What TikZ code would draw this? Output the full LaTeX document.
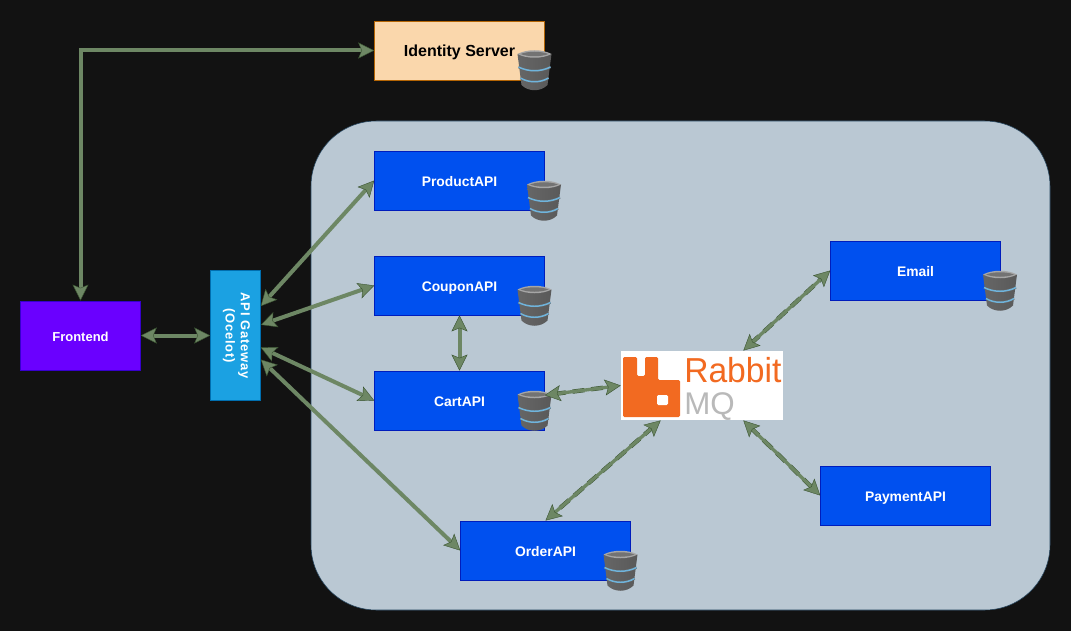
\documentclass[tikz,border=0pt]{standalone}
\usepackage{fontspec}
\setmainfont{Liberation Sans}
\usetikzlibrary{arrows.meta}
\definecolor{pagebg}{HTML}{121212}
\definecolor{regionfill}{HTML}{BAC8D3}
\definecolor{regionline}{HTML}{23445D}
\definecolor{apifill}{HTML}{0050EF}
\definecolor{apiline}{HTML}{001DBC}
\definecolor{linkgreen}{HTML}{6D8764}
\definecolor{linkdark}{HTML}{3A5431}
\definecolor{rabbitorange}{HTML}{F26A21}
\definecolor{mqgrey}{HTML}{B9B9B9}
\definecolor{identityfill}{HTML}{FAD7AC}
\definecolor{identityline}{HTML}{B46504}
\definecolor{frontfill}{HTML}{6A00FF}
\definecolor{frontline}{HTML}{3700CC}
\definecolor{gatefill}{HTML}{1BA1E2}
\definecolor{gateline}{HTML}{006EAF}
\definecolor{dbband}{HTML}{6FB4DC}
\tikzset{
    linktip/.tip={Stealth[length=12pt,width=12pt,inset=2.5pt,line width=0.3pt,color=linkdark,fill=linkgreen]},
    apibox/.style={draw=apiline, fill=apifill, text=white, minimum width=127.5pt, minimum height=44.5pt, inner sep=0pt, text height=8.5pt, text depth=0pt, font=\fontsize{10.4}{12}\selectfont\bfseries},
    link/.style={draw=linkgreen, line width=3pt, linktip-linktip},
    dashlink/.style={link, line width=2.5pt, preaction={draw=linkdark, -, line width=3.2pt, shorten >=7pt, shorten <=7pt, dash pattern=on 9pt off 5pt}},
    dbicon/.pic={
        \shade[left color=black!60, middle color=black!15, right color=black!65] (-17,-16) -- (17,-16) -- (13,15) .. controls (6,22) and (-6,22) .. (-13,15) -- cycle;
        \fill[black!35] (-17,-16) .. controls (-8,-21) and (8,-21) .. (17,-16) .. controls (8,-11) and (-8,-11) .. (-17,-16) -- cycle;
        \fill[black!55] (-14,-16) .. controls (-6,-19) and (6,-19) .. (14,-16) .. controls (6,-13) and (-6,-13) .. (-14,-16) -- cycle;
        \draw[black!60, line width=1.8pt] (-16,-3) .. controls (-6,2) and (6,2) .. (16,-3);
        \draw[dbband, line width=1.1pt] (-16,-3) .. controls (-6,2) and (6,2) .. (16,-3);
        \draw[black!60, line width=1.8pt] (-14,8) .. controls (-6,13) and (6,13) .. (14,8);
        \draw[dbband, line width=1.1pt] (-14,8) .. controls (-6,13) and (6,13) .. (14,8);
    }
}
\begin{document}
\begin{tikzpicture}[x=0.75pt, y=-0.75pt]
    \fill[pagebg] (0,0) rectangle (1071,631);
    \useasboundingbox (0,0) rectangle (1071,631);
    \draw[regionline, fill=regionfill, rounded corners=49pt] (311,121) rectangle (1050,610);

    \node[draw=identityline, fill=identityfill, minimum width=127.5pt, minimum height=44.5pt, inner sep=0pt, text height=9.5pt, text depth=0pt, font=\fontsize{12}{14}\selectfont\bfseries] (identity) at (459.5,50.5) {Identity Server};
    \node[apibox] (product) at (459.5,180.5) {ProductAPI};
    \node[apibox] (coupon) at (459.5,285.5) {CouponAPI};
    \node[apibox] (cart) at (459.5,400.5) {CartAPI};
    \node[apibox] (order) at (545.5,550.5) {OrderAPI};
    \node[apibox] (email) at (915.5,270.5) {Email};
    \node[apibox] (payment) at (905.5,495.5) {PaymentAPI};
    \node[draw=frontline, fill=frontfill, text=white, minimum width=90pt, minimum height=52pt, inner sep=0pt, text height=8.5pt, text depth=0pt, font=\fontsize{9.75}{11.5}\selectfont\bfseries] (frontend) at (80.5,335.5) {Frontend};
    \node[draw=gateline, fill=gatefill, minimum width=37.5pt, minimum height=97.5pt, inner sep=0pt] (gateway) at (235.5,335.5) {};
    \node[text=white, rotate=-90, align=center, inner sep=0pt, font=\fontsize{9.75}{11.5}\selectfont\bfseries\addfontfeature{LetterSpace=6}] (gatewaytext) at (236.5,335.5) {API Gateway\\(Ocelot)};
    \node[fill=white, minimum width=121.5pt, minimum height=52pt, inner sep=0pt] (rabbit) at (702,385.5) {};

    \fill[rabbitorange, rounded corners=1pt] (623,357) -- (637,357) -- (637,376) -- (645,376) -- (645,357) -- (658,357) -- (658,380) -- (680,380) -- (680,417) -- (623,417) -- cycle;
    \fill[white, rounded corners=1pt] (657,395) rectangle (668,405);
    \node[anchor=base west, text=rabbitorange, inner sep=0pt, font=\fontsize{26}{26}\selectfont, xscale=0.97] (rabbitword) at (684,382) {Rabbit};
    \node[anchor=base west, text=mqgrey, inner sep=0pt, font=\fontsize{23.5}{23.5}\selectfont] (mqword) at (684,414) {MQ};

    \pic at (534.5,70) {dbicon};
    \pic at (544,200.5) {dbicon};
    \pic at (534.5,305.5) {dbicon};
    \pic at (534.5,410.5) {dbicon};
    \pic at (620.5,570.5) {dbicon};
    \pic at (1000,290.5) {dbicon};

    \draw[link] (identity.west) -| (frontend.north);
    \draw[link] (frontend.east) -- (gateway.west);
    \draw[link] ([yshift=22pt]gateway.east) -- (product.west);
    \draw[link] ([yshift=8pt]gateway.east) -- (coupon.west);
    \draw[link] ([yshift=-9pt]gateway.east) -- (cart.west);
    \draw[link] ([yshift=-18pt]gateway.east) -- (order.west);
    \draw[link] (coupon.south) -- (cart.north);
    \draw[dashlink] ([yshift=4pt]cart.east) -- (rabbit.west);
    \draw[dashlink] ([xshift=-31pt]rabbit.south) -- (order.north);
    \draw[dashlink] ([xshift=31pt]rabbit.north) -- (email.west);
    \draw[dashlink] ([xshift=31pt]rabbit.south) -- (payment.west);
\end{tikzpicture}
\end{document}
